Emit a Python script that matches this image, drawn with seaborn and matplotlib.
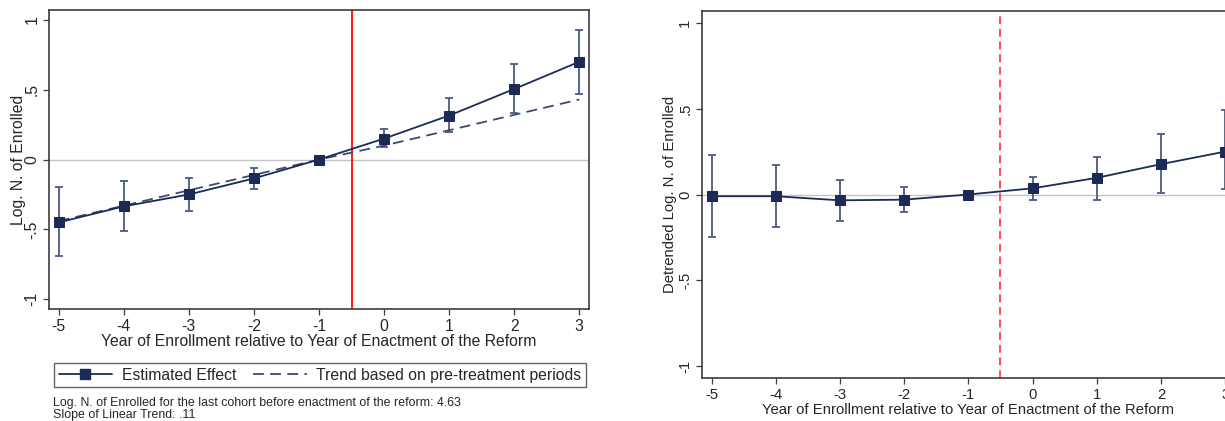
import matplotlib
matplotlib.use("Agg")
import matplotlib.pyplot as plt
import seaborn as sns
import pandas as pd
from matplotlib.lines import Line2D

# ---- data ----
years = [-5, -4, -3, -2, -1, 0, 1, 2, 3]

effect = [-0.45, -0.335, -0.25, -0.135, 0.0, 0.15, 0.315, 0.505, 0.70]
effect_lo = [-0.69, -0.515, -0.37, -0.21, 0.0, 0.09, 0.20, 0.335, 0.47]
effect_hi = [-0.20, -0.155, -0.13, -0.06, 0.0, 0.22, 0.44, 0.685, 0.93]

trend = [-0.44, -0.33, -0.22, -0.11, 0.0, 0.10, 0.21, 0.32, 0.43]

detrended = [-0.01, -0.01, -0.034, -0.03, 0.0, 0.036, 0.097, 0.177, 0.25]
detrended_lo = [-0.25, -0.19, -0.155, -0.10, 0.0, -0.03, -0.03, 0.006, 0.03]
detrended_hi = [0.23, 0.17, 0.086, 0.046, 0.0, 0.10, 0.22, 0.35, 0.49]

ytick_vals = [-1, -0.5, 0, 0.5, 1]
ytick_labels = ["-1", "-.5", "0", ".5", "1"]
xlabel = "Year of Enrollment relative to Year of Enactment of the Reform"
note_lines = [
    "Log. N. of Enrolled for the last cohort before enactment of the reform: 4.63",
    "Slope of Linear Trend: .11",
]

df_left = pd.DataFrame({"year": years, "effect": effect, "trend": trend,
                        "lo": effect_lo, "hi": effect_hi})
df_right = pd.DataFrame({"year": years, "effect": detrended,
                         "lo": detrended_lo, "hi": detrended_hi})

# ---- style ----
sns.set_theme(style="white")
plt.rcParams["font.family"] = ["Liberation Sans", "DejaVu Sans"]

NAVY = "#1b2a57"
BAR = "#4c5a82"
FRAME = "#3c3c3c"

fig = plt.figure(figsize=(12.25, 4.21), dpi=100)
fig.patch.set_facecolor("white")

ax1 = fig.add_axes([0.040, 0.266, 0.4408, 0.710])
ax2 = fig.add_axes([0.573, 0.102, 0.435, 0.872])


def style_axes(ax, tick_size, label_size, ylabel, ylabelpad):
    ax.set_xlim(-5.15, 3.15)
    ax.set_ylim(-1.07, 1.07)
    ax.set_xticks(years)
    ax.set_xticklabels([str(y) for y in years], fontsize=tick_size)
    ax.set_yticks(ytick_vals)
    ax.set_yticklabels(ytick_labels, fontsize=tick_size, rotation=90, va="center")
    ax.tick_params(axis="both", direction="out", length=4.5, width=0.9,
                   color=FRAME, pad=2.5, left=True, bottom=True)
    for s in ax.spines.values():
        s.set_color(FRAME)
        s.set_linewidth(1.2)
    ax.axhline(0, color="#c4c4c4", lw=1.0, zorder=0)
    return ylabelpad


# ---- left panel: estimated effect with pre-treatment trend ----
style_axes(ax1, 11.3, 11.3, "Log. N. of Enrolled", 0)
ax1.axvline(-0.5, color="#ff1a1a", lw=1.4, zorder=1)
ax1.errorbar(df_left["year"], df_left["effect"],
             yerr=[df_left["effect"] - df_left["lo"], df_left["hi"] - df_left["effect"]],
             fmt="none", ecolor=BAR, elinewidth=1.3, capsize=3.2, capthick=1.3, zorder=2)
sns.lineplot(data=df_left, x="year", y="trend", ax=ax1, color="#3b4a72",
             lw=1.3, dashes=False, zorder=3, legend=False)
ax1.lines[-1].set_dashes((6, 3.5))
sns.lineplot(data=df_left, x="year", y="effect", ax=ax1, color=NAVY, lw=1.3,
             marker="s", markersize=7, markeredgecolor=NAVY, zorder=4, legend=False)
ax1.set_xlabel(xlabel, fontsize=11.3, labelpad=0)
ax1.set_ylabel("Log. N. of Enrolled", fontsize=11.3, labelpad=-1)

handles = [
    Line2D([], [], color=NAVY, lw=1.3, marker="s", markersize=7),
    Line2D([], [], color="#3b4a72", lw=1.3, dashes=(6, 3.5)),
]
leg = fig.legend(handles, ["Estimated Effect", "Trend based on pre-treatment periods"],
                 loc="center", bbox_to_anchor=(0.2612, 0.109), ncol=2,
                 fontsize=11.3, frameon=True, fancybox=False, handlelength=3.4,
                 handletextpad=0.6, columnspacing=1.1, borderpad=0.3,
                 borderaxespad=0)
leg.get_frame().set_edgecolor(FRAME)
leg.get_frame().set_linewidth(1.0)

fig.text(0.0433, 1 - 403 / 421, note_lines[0], fontsize=8.9, va="center", ha="left")
fig.text(0.0433, 1 - 415 / 421, note_lines[1], fontsize=8.9, va="center", ha="left")

# ---- right panel: detrended effect ----
style_axes(ax2, 10.7, 10.7, "Detrended Log. N. of Enrolled", 0)
ax2.axvline(-0.5, color="#ff4d4d", lw=1.4, dashes=(4, 2.5), zorder=1)
ax2.errorbar(df_right["year"], df_right["effect"],
             yerr=[df_right["effect"] - df_right["lo"], df_right["hi"] - df_right["effect"]],
             fmt="none", ecolor=BAR, elinewidth=1.3, capsize=3.2, capthick=1.3, zorder=2)
sns.lineplot(data=df_right, x="year", y="effect", ax=ax2, color=NAVY, lw=1.3,
             marker="s", markersize=7, markeredgecolor=NAVY, zorder=4, legend=False)
ax2.set_xlabel(xlabel, fontsize=10.7, labelpad=1)
ax2.set_ylabel("Detrended Log. N. of Enrolled", fontsize=10.7, labelpad=1)

fig.savefig("out.png", dpi=100, facecolor="white")
